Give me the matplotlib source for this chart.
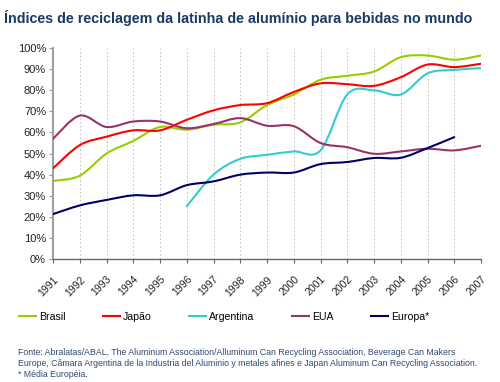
import matplotlib; matplotlib.use("Agg")
import matplotlib.pyplot as plt
from matplotlib.path import Path
from matplotlib.patches import PathPatch
from matplotlib.lines import Line2D

plt.rcParams["font.family"] = ["Liberation Sans", "DejaVu Sans"]

years = list(range(1991, 2008))
brasil = [37, 39.5, 50, 56, 62.6, 61.3, 63.7, 64.8, 73, 78, 85, 86.9, 88.9, 95.7, 96.5, 94.5, 96.5]
japao = [43, 54, 58, 61, 61, 66, 70.5, 73, 73.9, 79.2, 83.3, 82.9, 82.1, 86.2, 92.2, 91, 92.6]
arg_years = list(range(1996, 2008))
argentina = [25, 40, 47.5, 49.4, 51, 51.5, 78, 80, 78, 88, 89.7, 90.5]
eua = [57, 68, 62.6, 65.2, 65.2, 62, 64, 66.8, 63.2, 63, 55, 53, 49.9, 51, 52.3, 51.5, 53.7]
eur_years = list(range(1991, 2007))
europa = [21.3, 25.4, 28, 30.2, 30.2, 35, 36.8, 40, 41, 41, 45, 46, 47.9, 48, 52.6, 57.8]

labels = ["Brasil", "Japão", "Argentina", "EUA", "Europa*"]
colors = ["#99CC00", "#FF0000", "#33CCCC", "#993366", "#000066"]

TITLE = "Índices de reciclagem da latinha de alumínio para bebidas no mundo"
NOTE = ("Fonte: Abralatas/ABAL, The Aluminum Association/Alluminum Can Recycling Association, Beverage Can Makers\n"
        "Europe, Câmara Argentina de la Industria del Aluminio y metales afines e Japan Aluminum Can Recycling Association.\n"
        "* Média Européia.")


def smooth_path(xs, ys):
    # excel-style smoothed line: cubic bezier through each point
    pts = list(zip(xs, ys))
    n = len(pts)
    verts = [pts[0]]; codes = [Path.MOVETO]
    for i in range(n - 1):
        p0 = pts[i - 1] if i > 0 else pts[i]
        p1 = pts[i]; p2 = pts[i + 1]
        p3 = pts[i + 2] if i + 2 < n else pts[i + 1]
        c1 = (p1[0] + (p2[0] - p0[0]) / 6, p1[1] + (p2[1] - p0[1]) / 6)
        c2 = (p2[0] - (p3[0] - p1[0]) / 6, p2[1] - (p3[1] - p1[1]) / 6)
        verts += [c1, c2, p2]; codes += [Path.CURVE4] * 3
    return Path(verts, codes)


fig = plt.figure(figsize=(5, 3.82), dpi=100, facecolor="white")
ax = fig.add_axes([0.106, 0.322, 0.856, 0.552])

series = [(years, brasil), (years, japao), (arg_years, argentina), (years, eua), (eur_years, europa)]
for (xs, ys), col in zip(series, colors):
    ax.add_patch(PathPatch(smooth_path(xs, ys), fill=False, edgecolor=col, lw=1.5,
                           capstyle="round", joinstyle="round", zorder=3))

ax.set_xlim(1991, 2007)
ax.set_ylim(0, 100)
ax.set_xticks(years)
ax.set_xticklabels([str(y) for y in years], rotation=45, ha="right", rotation_mode="anchor",
                   fontsize=7.5, color="#222222")
ax.set_yticks(range(0, 101, 10))
ax.set_yticklabels([f"{v}%" for v in range(0, 101, 10)], fontsize=8, color="#222222")
ax.tick_params(axis="x", length=3, color="#666666", pad=8)
ax.tick_params(axis="y", length=3, color="#999999", pad=2)
ax.grid(axis="x", color="#BBBBBB", linestyle=(0, (1.5, 2.5)), lw=0.7)
for s in ["top", "right"]:
    ax.spines[s].set_visible(False)
ax.spines["left"].set_color("#A0A0A0"); ax.spines["left"].set_linewidth(1.5)
ax.spines["bottom"].set_color("#666666"); ax.spines["bottom"].set_linewidth(1.0)

fig.text(0.008, 0.975, TITLE, ha="left", va="top", fontsize=10.3, fontweight="bold", color="#1B3A66")

handles = [Line2D([0], [0], color=c, lw=1.5) for c in colors]
fig.legend(handles, labels, loc="center left", bbox_to_anchor=(0.038, 0.17), ncol=5, frameon=False,
           fontsize=7.6, handlelength=1.6, handletextpad=0.3, columnspacing=3.55, borderaxespad=0,
           borderpad=0)

fig.text(0.036, 0.089, NOTE, ha="left", va="top", fontsize=6.3, color="#2F4A72", linespacing=1.25)

fig.savefig("out.png", dpi=100)
